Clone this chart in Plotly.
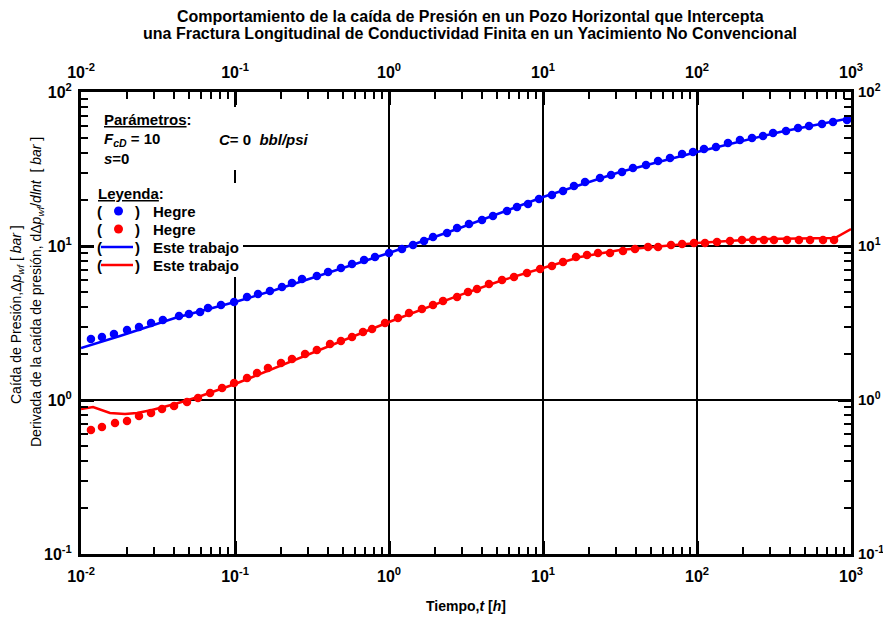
import plotly.graph_objects as go

# ---------------- data ----------------
hegre_dp_t = [0.0116, 0.01368, 0.01637, 0.0199, 0.0238, 0.0285, 0.034, 0.0433, 0.0502, 0.0593,
              0.0668, 0.0811, 0.0986, 0.1197, 0.141, 0.1686, 0.2018, 0.2344, 0.2723, 0.34,
              0.402, 0.4875, 0.575, 0.689, 0.811, 1.0, 1.214, 1.432, 1.687, 1.931,
              2.382, 2.767, 3.306, 4.018, 4.732, 5.836, 6.776, 7.993, 9.42, 11.43,
              13.49, 15.89, 18.75, 23.45, 27.66, 32.59, 38.37, 46.66, 55.85, 66.8,
              80.0, 94.2, 111.0, 132.8, 158.9, 190.0, 227.5, 268.3, 311.7, 378.4,
              452.6, 533.6, 648.4, 763.9, 941.9]
hegre_dp = [2.489, 2.565, 2.683, 2.848, 2.979, 3.162, 3.306, 3.511, 3.617, 3.728,
            3.957, 4.14, 4.329, 4.665, 4.877, 5.10, 5.41, 5.75, 6.10, 6.38,
            6.78, 7.20, 7.64, 8.11, 8.48, 9.01, 9.56, 10.15, 10.77, 11.44,
            12.14, 13.09, 13.90, 14.75, 15.66, 16.88, 17.92, 18.75, 20.19, 21.43,
            22.76, 24.52, 26.04, 27.65, 28.91, 30.24, 32.1, 33.6, 35.65, 37.27,
            39.57, 40.8, 42.66, 43.96, 46.66, 48.78, 50.25, 51.8, 54.2, 55.85,
            58.4, 60.2, 62.0, 63.9, 65.8]

hegre_der_t = [0.0116, 0.01368, 0.01663, 0.0199, 0.0238, 0.0285, 0.03357, 0.0402, 0.0488, 0.0575,
               0.0689, 0.0824, 0.0986, 0.1197, 0.139, 0.1637, 0.199, 0.2344, 0.2851, 0.34,
               0.414, 0.4875, 0.575, 0.678, 0.776, 0.942, 1.143, 1.349, 1.637, 1.931,
               2.243, 2.767, 3.258, 3.728, 4.457, 5.417, 6.48, 7.87, 9.57, 11.43,
               13.49, 16.38, 19.31, 22.76, 27.23, 33.06, 39.57, 48.06, 55.85, 67.8,
               80.0, 95.6, 112.7, 134.9, 163.8, 196.0, 231.0, 272.0, 316.0, 384.0,
               459.0, 542.0, 658.0, 776.0]
hegre_der = [0.638, 0.668, 0.709, 0.731, 0.787, 0.823, 0.874, 0.914, 0.971, 1.03,
             1.11, 1.196, 1.289, 1.389, 1.497, 1.614, 1.739, 1.847, 1.99, 2.11,
             2.31, 2.416, 2.565, 2.765, 2.89, 3.162, 3.41, 3.67, 3.90, 4.14,
             4.39, 4.665, 5.03, 5.26, 5.66, 6.01, 6.29, 6.68, 7.09, 7.42,
             7.87, 8.48, 8.74, 9.01, 9.01, 9.28, 9.56, 9.86, 9.86, 10.15,
             10.30, 10.46, 10.46, 10.62, 10.77, 10.94, 10.94, 10.94, 10.94, 10.94,
             10.94, 10.94, 10.94, 10.94]

este_dp_t = [0.01, 0.0179, 0.0407, 0.1, 0.182, 1.0, 2.767, 10.0, 31.6, 100.0, 346.0, 1000.0]
este_dp = [2.176, 2.604, 3.41, 4.33, 5.18, 9.01, 12.89, 20.8, 30.24, 40.8, 55.0, 67.8]

este_der_t = [0.01, 0.01197, 0.01542, 0.0193, 0.0231, 0.0289, 0.0407, 0.0575, 0.1, 0.182,
              0.356, 1.0, 2.767, 5.26, 10.0, 17.4, 31.6, 57.5, 100.0, 256.0, 787.0, 1000.0]
este_der = [0.874, 0.901, 0.823, 0.811, 0.823, 0.861, 0.942, 1.046, 1.27, 1.614,
            2.11, 3.21, 4.73, 5.93, 7.20, 8.48, 9.42, 10.0, 10.46, 11.10, 11.27, 12.89]

x_tickvals = [0.01, 0.1, 1, 10, 100, 1000]
x_ticktext = ["10<sup>-2</sup>", "10<sup>-1</sup>", "10<sup>0</sup>", "10<sup>1</sup>",
              "10<sup>2</sup>", "10<sup>3</sup>"]
y_tickvals = [0.1, 1, 10, 100]
y_ticktext = ["10<sup>-1</sup>", "10<sup>0</sup>", "10<sup>1</sup>", "10<sup>2</sup>"]
minor_mult = [2, 3, 4, 5, 6, 7, 8, 9]

title_lines = ["Comportamiento de la caída de Presión en un Pozo Horizontal que Intercepta",
               "una Fractura Longitudinal de Conductividad Finita en un Yacimiento No Convencional"]

# ---------------- styling ----------------
OFF = 8                      # default page margin of the html body
W, H = 891 - OFF, 621 - OFF
L, R, T, B = 81, 851, 92, 554  # plot frame in screenshot pixels
BLUE = "#0000ff"
RED = "#ff0000"
FONT = "Liberation Sans, Arial, sans-serif"


def px(x):
    return (x - L) / (R - L)


def py(y):
    return (B - y) / (B - T)


fig = go.Figure()

fig.add_trace(go.Scatter(x=este_dp_t, y=este_dp, mode="lines",
                         line=dict(color=BLUE, width=2.5), showlegend=False, hoverinfo="skip"))
fig.add_trace(go.Scatter(x=este_der_t, y=este_der, mode="lines",
                         line=dict(color=RED, width=2.5), showlegend=False, hoverinfo="skip"))
fig.add_trace(go.Scatter(x=hegre_dp_t, y=hegre_dp, mode="markers",
                         marker=dict(color=BLUE, size=8.5), showlegend=False))
fig.add_trace(go.Scatter(x=hegre_der_t, y=hegre_der, mode="markers",
                         marker=dict(color=RED, size=8.5), showlegend=False))
# invisible trace to create the mirrored (top / right) axes
fig.add_trace(go.Scatter(x=[x_tickvals[0], x_tickvals[-1]],
                         y=[y_tickvals[0], y_tickvals[-1]],
                         xaxis="x2", yaxis="y2", mode="markers",
                         marker=dict(opacity=0), showlegend=False, hoverinfo="skip"))


def minor_vals(decades):
    return [m * d for d in decades[:-1] for m in minor_mult]


tickfont = dict(family=FONT, size=16, color="black", weight="bold")


def axis(decades, ticktext, font=tickfont, **kw):
    import math
    return dict(type="log", range=[math.log10(decades[0]), math.log10(decades[-1])],
                showline=True, linewidth=3, linecolor="black",
                ticks="inside", ticklen=13, tickwidth=2.5, tickcolor="black",
                tickmode="array", tickvals=decades, ticktext=ticktext,
                tickfont=font, zeroline=False, automargin=False,
                minor=dict(tickmode="array", tickvals=minor_vals(decades), ticks="inside",
                           ticklen=7, tickwidth=2, tickcolor="black", showgrid=False),
                **kw)


fig.update_layout(
    width=W, height=H,
    margin=dict(l=L - OFF, r=891 - R, t=T - OFF, b=621 - B, autoexpand=False),
    paper_bgcolor="white", plot_bgcolor="white",
    showlegend=False,
    xaxis=axis(x_tickvals, x_ticktext, showgrid=True, gridcolor="black", gridwidth=1.5,
               ticklabelstandoff=6),
    yaxis=axis(y_tickvals, y_ticktext, showgrid=True, gridcolor="black", gridwidth=1.5,
               ticklabelstandoff=3),
    xaxis2=axis(x_tickvals, x_ticktext, overlaying="x", side="top", showgrid=False,
                ticklabelstandoff=5),
    yaxis2=axis(y_tickvals, y_ticktext, font=dict(tickfont, size=15), overlaying="y",
                side="right", showgrid=False, ticklabelstandoff=1),
)

# white boxes hiding the grid behind the parameter / legend block
fig.add_shape(type="rect", xref="paper", yref="paper", x0=px(92), x1=px(320), y0=py(170), y1=py(107),
              fillcolor="white", line=dict(width=0), layer="above")
fig.add_shape(type="rect", xref="paper", yref="paper", x0=px(94), x1=px(243), y0=py(277), y1=py(183),
              fillcolor="white", line=dict(width=0), layer="above")

ann = []


def text(x, y, s, size=15, bold=True, anchor="left", angle=0, family=FONT):
    ann.append(dict(x=px(x), y=py(y), xref="paper", yref="paper", text=s, showarrow=False,
                    xanchor=anchor, yanchor="middle", textangle=angle,
                    font=dict(family=family, size=size, color="black",
                              weight="bold" if bold else "normal")))


# title
text(470, 17, title_lines[0], size=16, anchor="center")
text(470, 34, title_lines[1], size=16, anchor="center")
# axis titles
text(466, 606, "Tiempo,<i>t</i> [<i>h</i>]", size=14, anchor="center")
text(17, 315, "Caída de Presión,Δ<i>p</i><sub><i>wf</i></sub> [ <i>bar</i> ]", size=14,
     bold=False, anchor="center", angle=-90)
text(37, 292, "Derivada de la caída de presión, dΔ<i>p</i><sub><i>wf</i></sub>/<i>dlnt</i>  [ <i>bar</i> ]",
     size=14, bold=False, anchor="center", angle=-90)

# parameter block
text(102, 120, "<u>Parámetros</u>:")
text(102, 139, "<i>F</i><sub><i>cD</i></sub> = 10")
text(217, 139, "<i>C</i>= 0  <i>bbl/psi</i>")
text(102, 158, "<i>s</i>=0")

# legend block
text(96, 193, "<u>Leyenda</u>:")
rows = [(211, BLUE, "dot", "Hegre"), (229, RED, "dot", "Hegre"),
        (247, BLUE, "line", "Este trabajo"), (265, RED, "line", "Este trabajo")]
for yy, col, kind, lab in rows:
    text(95, yy, "(")
    text(133, yy, ")")
    text(151, yy, lab)
    if kind == "dot":
        fig.add_shape(type="circle", xref="paper", yref="paper",
                      x0=px(114), x1=px(123), y0=py(yy + 4.5), y1=py(yy - 4.5),
                      fillcolor=col, line=dict(color=col, width=0), layer="above")
    else:
        fig.add_shape(type="line", xref="paper", yref="paper",
                      x0=px(101), x1=px(133), y0=py(yy), y1=py(yy),
                      line=dict(color=col, width=2.5), layer="above")

fig.update_layout(annotations=ann)
fig.write_html("out.html")
